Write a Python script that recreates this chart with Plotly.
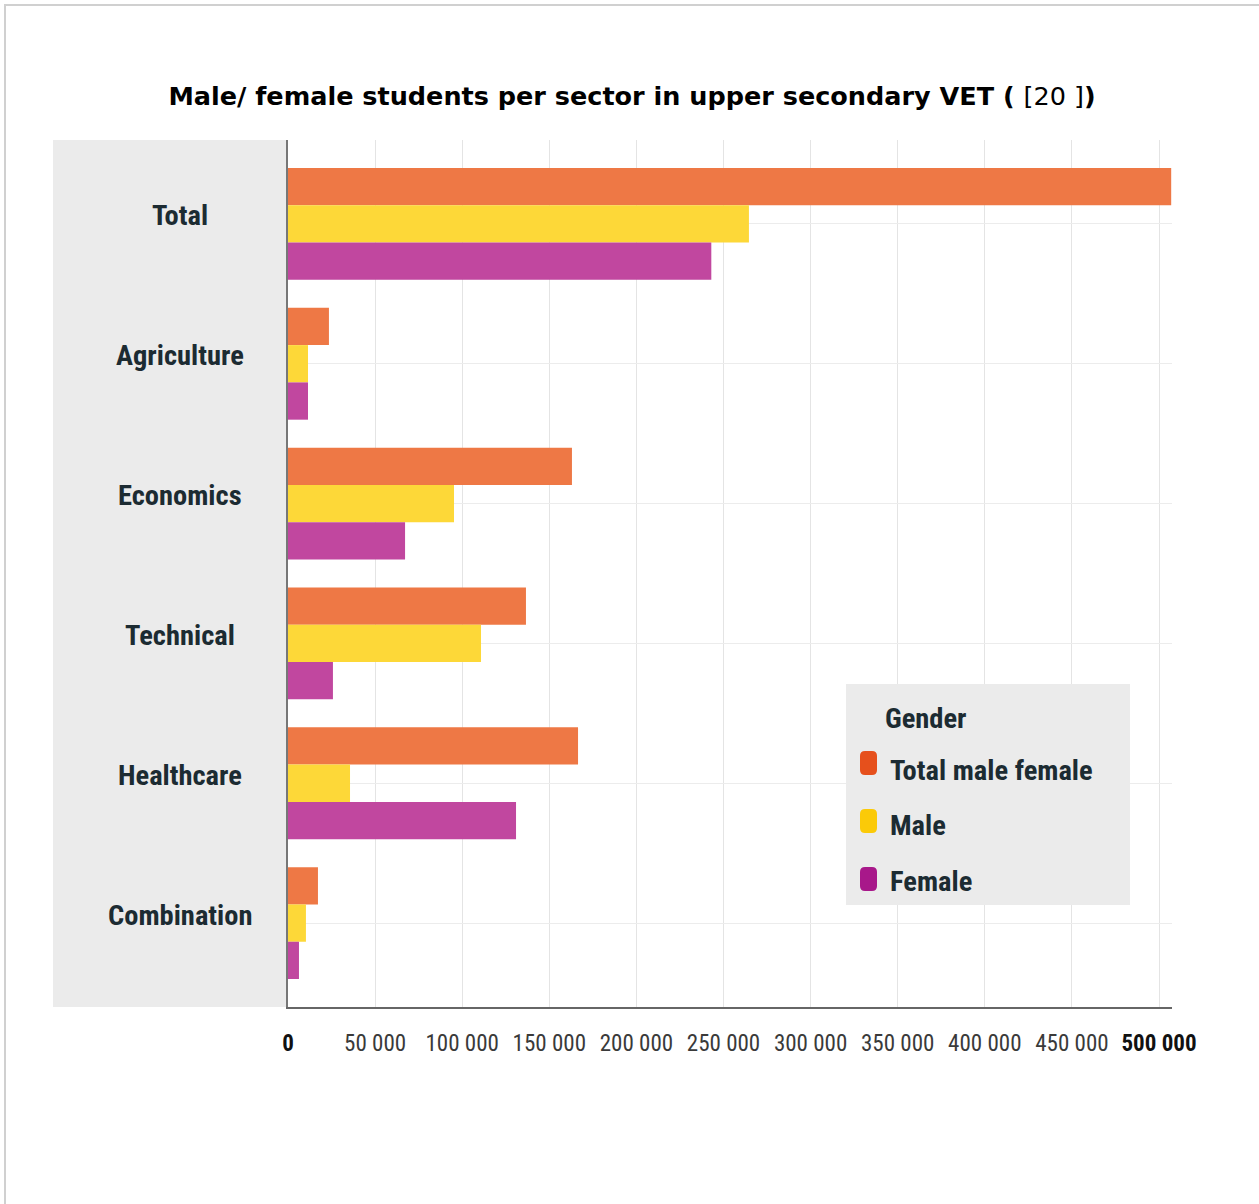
import plotly.graph_objects as go

# ---- data ----
categories = ["Total", "Agriculture", "Economics", "Technical", "Healthcare", "Combination"]
total_mf = [507000, 23500, 163000, 136600, 166500, 17200]
male = [264600, 11500, 95300, 110800, 35600, 10300]
female = [243000, 11500, 67200, 25800, 130900, 6300]
series_names = ["Total male female", "Male", "Female"]
x_ticks = [0, 50000, 100000, 150000, 200000, 250000, 300000, 350000, 400000, 450000, 500000]
x_tick_labels = ["0", "50 000", "100 000", "150 000", "200 000", "250 000", "300 000",
                 "350 000", "400 000", "450 000", "500 000"]
legend_title = "Gender"
title_text = "Male/ female students per sector in upper secondary VET ("
title_ref = "[20 ]"

# ---- styling ----
W, H = 1259, 1204
L, R, T, B = 288, 1172, 140, 1007  # plot area in pixels
bar_colors = ["#ee7845", "#fdd838", "#c1479f"]
legend_colors = ["#e6501c", "#fbca08", "#a8188a"]
narrow = "Roboto Condensed, Open Sans Condensed, sans-serif"
label_color = "#1c2b32"


def px(x):
    return (x - L) / (R - L)


def py(y):
    return (B - y) / (B - T)


fig = go.Figure()
for name, vals, col in zip(series_names, [total_mf, male, female], bar_colors):
    fig.add_trace(go.Bar(
        y=categories, x=vals, name=name, orientation="h",
        marker=dict(color=col, line=dict(width=0)),
        showlegend=False,
    ))

xmax = 500000 * (R - L) / (1159 - L)

ticktext = []
for v, t in zip(x_ticks, x_tick_labels):
    if v == x_ticks[0] or v == x_ticks[-1]:
        ticktext.append(f"<b><span style='color:#111'>{t}</span></b>")
    else:
        ticktext.append(t)

shapes = []
# gray label panel
shapes.append(dict(type="rect", xref="paper", yref="paper", x0=px(53), x1=0, y0=0, y1=1,
                   fillcolor="#ebebeb", line=dict(width=0), layer="below"))
# page border (top and left)
shapes.append(dict(type="line", xref="paper", yref="paper", x0=px(5), x1=px(5), y0=py(4), y1=py(1210),
                   line=dict(color="#d0d0d0", width=2)))
shapes.append(dict(type="line", xref="paper", yref="paper", x0=px(4), x1=px(1265), y0=py(5), y1=py(5),
                   line=dict(color="#d0d0d0", width=2)))
# legend box
shapes.append(dict(type="rect", xref="paper", yref="paper", x0=px(846), x1=px(1130), y0=py(905), y1=py(684),
                   fillcolor="#ebebeb", line=dict(width=0), layer="above"))


def rounded_rect(x0, y0, x1, y1, r):
    # pixel coords -> paper coords path with rounded corners
    def P(x, y):
        return f"{px(x):.6f},{py(y):.6f}"
    return (f"M {P(x0 + r, y0)} L {P(x1 - r, y0)} Q {P(x1, y0)} {P(x1, y0 + r)} "
            f"L {P(x1, y1 - r)} Q {P(x1, y1)} {P(x1 - r, y1)} L {P(x0 + r, y1)} "
            f"Q {P(x0, y1)} {P(x0, y1 - r)} L {P(x0, y0 + r)} Q {P(x0, y0)} {P(x0 + r, y0)} Z")


legend_rows_y = [763, 821, 879]
for col, cy in zip(legend_colors, legend_rows_y):
    shapes.append(dict(type="path", xref="paper", yref="paper",
                       path=rounded_rect(860, cy - 12, 877, cy + 12, 5),
                       fillcolor=col, line=dict(width=0), layer="above"))

annotations = []
for cat in categories:
    annotations.append(dict(text=f"<b>{cat}</b>", xref="paper", yref="y", x=px(180), y=cat,
                            xanchor="center", yanchor="middle", yshift=8, showarrow=False,
                            font=dict(family=narrow, size=28.5, color=label_color)))
annotations.append(dict(text=f"<b>{legend_title}</b>", xref="paper", yref="paper", x=px(883), y=py(718),
                        xanchor="left", yanchor="middle", showarrow=False,
                        font=dict(family=narrow, size=28.5, color=label_color)))
for name, cy in zip(series_names, [770, 825, 881]):
    annotations.append(dict(text=f"<b>{name}</b>", xref="paper", yref="paper", x=px(888), y=py(cy),
                            xanchor="left", yanchor="middle", showarrow=False,
                            font=dict(family=narrow, size=28.5, color=label_color)))

fig.update_layout(
    width=W, height=H,
    margin=dict(l=L, r=W - R, t=T, b=H - B, pad=0),
    paper_bgcolor="white", plot_bgcolor="white",
    barmode="group", bargap=0.2, bargroupgap=0,
    title=dict(text=f"<b>{title_text} </b>{title_ref}<b>)</b>",
               x=0.502, xref="container", xanchor="center",
               y=1 - 96 / H, yref="container", yanchor="middle",
               font=dict(family="DejaVu Sans", size=25.5, color="#000")),
    xaxis=dict(range=[0, xmax], tickvals=x_ticks, ticktext=ticktext,
               showgrid=True, gridcolor="#e4e4e4", gridwidth=1,
               showline=True, linecolor="#666", linewidth=1.5,
               zeroline=False, ticks="", ticklabelstandoff=15, tickangle=0,
               tickfont=dict(family=narrow, size=23, color="#3a3a3a")),
    yaxis=dict(categoryorder="array", categoryarray=categories,
               range=[5.6, -0.6], showticklabels=False,
               showgrid=True, gridcolor="#ececec", gridwidth=1,
               showline=True, linecolor="#777", linewidth=2, zeroline=False, ticks=""),
    shapes=shapes, annotations=annotations,
)

fig.write_html("out.html")
